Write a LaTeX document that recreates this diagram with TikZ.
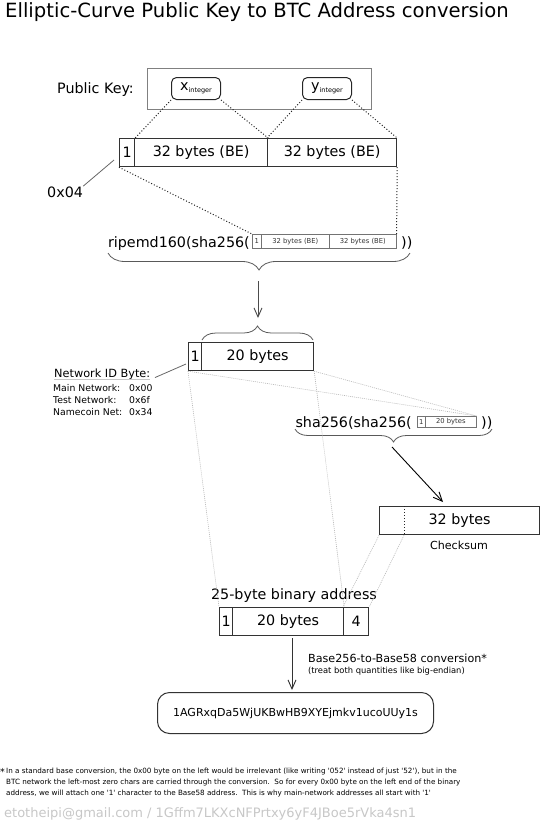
\documentclass[tikz,border=0pt]{standalone}
\usepackage{fontspec}
\setmainfont{DejaVu Sans}
\usetikzlibrary{decorations.pathreplacing}
\usetikzlibrary{arrows.meta}
\newcommand{\midfont}{\fontsize{14.3}{17}\selectfont}
\newcommand{\intsub}[1]{{\fontsize{6.5}{7}\selectfont\raisebox{-2.5pt}{#1}}}
\tikzset{
  cell/.style={draw=black!80, line width=1.2pt, inner sep=0pt, anchor=north west,
    minimum height=28pt, font=\midfont},
  tinycell/.style={draw=black!55, line width=0.6pt, inner sep=0pt, anchor=north west,
    minimum height=14pt, text=black!80, font=\fontsize{6.8}{7}\selectfont},
  keybox/.style={draw=black!85, line width=1pt, rounded corners=5pt, inner sep=0pt,
    anchor=north west, minimum width=49pt, minimum height=22pt, font=\midfont},
  dots/.style={black!85, line width=1pt, dash pattern=on 1pt off 2pt},
  faint/.style={black!28, line width=0.6pt, dash pattern=on 1pt off 1pt},
  leader/.style={black!60, line width=0.8pt},
  curly/.style={black!65, line width=0.8pt, decorate},
  flow/.style={-{Straight Barb[length=9pt,width=8pt]}, line width=0.9pt}
}

\begin{document}
\begin{tikzpicture}[x=1pt, y=-1pt, every node/.append style={inner sep=0pt}]
	\useasboundingbox (0,0) rectangle (540,820);
	\node[anchor=base west, font=\fontsize{19.6}{22}\selectfont] (title) at (5,17) {Elliptic-Curve Public Key to BTC Address conversion};

	% public key
	\node[anchor=base west, font=\midfont] (pklabel) at (57,93) {Public Key:};
	\node[draw=black!50, line width=0.7pt, anchor=north west, minimum width=224pt, minimum height=41pt] (pkbox) at (147,68) {};
	\node[keybox] (xint) at (171,77) {x\intsub{integer}};
	\node[keybox] (yint) at (302,77) {y\intsub{integer}};

	\node[cell, minimum width=15pt] (m1) at (119,138) {1};
	\node[cell, minimum width=133pt] (m2) at (134,138) {32 bytes (BE)};
	\node[cell, minimum width=129pt] (m3) at (267,138) {32 bytes (BE)};
	\draw[dots] (xint.south west) -- (m1.north east);
	\draw[dots] (xint.south east) -- (m2.north east);
	\draw[dots] (yint.south west) -- (m3.north west);
	\draw[dots] (yint.south east) -- (m3.north east);

	\node[anchor=base west, font=\midfont] (zerox) at (47,197) {0x04};
	\coordinate (onept) at (114,160);
	\draw[leader] (zerox.north east) -- (onept);

	% ripemd160 of the whole key
	\node[anchor=base east, font=\midfont] (ripe) at (250,247) {ripemd160(sha256(};
	\node[tinycell, minimum width=9pt] (s1) at (252,234) {1};
	\node[tinycell, minimum width=68pt] (s2) at (261,234) {32 bytes (BE)};
	\node[tinycell, minimum width=67pt] (s3) at (329,234) {32 bytes (BE)};
	\node[anchor=base west, font=\midfont] (ripeclose) at (401,247) {))};
	\draw[dots] (m1.south west) -- (s1.north west);
	\draw[dots] (m3.south east) -- (s3.north east);
	\draw[curly, decoration={brace, amplitude=17pt}] (410,253) -- (108,253);

	\coordinate (hashout) at (258,281);
	\coordinate (hashin) at (258,318);
	\draw[flow, black!70] (hashout) -- (hashin);
	\draw[curly, decoration={brace, amplitude=14pt}] (202,340) -- (313,340);

	\node[cell, minimum width=13pt] (n1) at (188,342) {1};
	\node[cell, minimum width=112pt] (n2) at (201,342) {20 bytes};

	% network byte
	\node[anchor=base west, font=\fontsize{11.3}{13}\selectfont] (netid) at (54,377) {Network ID Byte:};
	\draw[black!22, line width=1pt] (netid.south west) -- (netid.south east);
	\coordinate (idpt) at (186,364);
	\draw[leader, shorten <=5pt] (netid.south east) -- (idpt);
	\foreach \name/\val [count=\i] in {Main Network:/0x00, Test Network:/0x6f, Namecoin Net:/0x34} {
		\node[anchor=base west, font=\fontsize{9.3}{11}\selectfont] (net\i) at (53,379+12*\i) {\name};
		\node[anchor=base west, font=\fontsize{9.3}{11}\selectfont] (val\i) at (129,379+12*\i) {\val};
	}

	% checksum
	\node[anchor=base east, font=\midfont] (sha) at (412,427) {sha256(sha256(};
	\node[tinycell, minimum width=8pt, minimum height=11pt] (t1) at (417,416) {1};
	\node[tinycell, minimum width=51pt, minimum height=11pt] (t2) at (425,416) {20 bytes};
	\node[anchor=base west, font=\midfont] (shaclose) at (481,427) {))};
	\draw[faint] (n1.south west) -- (t2.north east);
	\draw[faint] (n2.south east) -- (t2.north east);
	\draw[curly, decoration={brace, amplitude=13pt}] (492,429) -- (295,429);

	\coordinate (dblout) at (392,447);
	\coordinate (chkin) at (443,502);
	\draw[flow] (dblout) -- (chkin);

	\node[cell, minimum width=160pt] (chk) at (379,506) {32 bytes};
	\path ([xshift=25pt]chk.north west) coordinate (divtop) ([xshift=25pt]chk.south west) coordinate (divbot);
	\draw[dots] (divtop) -- (divbot);
	\node[anchor=base, font=\fontsize{11.1}{13}\selectfont] (chklabel) at (459,549) {Checksum};

	% binary address
	\node[anchor=base, font=\midfont] (addrlabel) at (294,599) {25-byte binary address};
	\node[cell, minimum width=13pt] (a1) at (219,607) {1};
	\node[cell, minimum width=111pt] (a2) at (232,607) {20 bytes};
	\node[cell, minimum width=25pt] (a3) at (343,607) {4};
	\draw[faint] (n1.south west) -- (a1.north west);
	\draw[faint] (n2.south east) -- (a2.north east);
	\draw[faint] (chk.south west) -- (a3.north west);
	\draw[faint] (divbot) -- (a3.north east);

	\coordinate (b58out) at (292,638);
	\coordinate (b58in) at (292,690);
	\draw[flow, black!80] (b58out) -- (b58in);
	\node[anchor=base west, font=\fontsize{11.15}{13}\selectfont] (convlabel) at (308,662) {Base256-to-Base58 conversion*};
	\node[anchor=base west, font=\fontsize{8.35}{10}\selectfont] (convnote) at (308,673) {(treat both quantities like big-endian)};
	\node[draw=black!80, line width=1pt, rounded corners=12pt, anchor=north west, minimum width=276pt, minimum height=41pt, font=\fontsize{11}{13}\selectfont] (b58) at (157,692) {1AGRxqDa5WjUKBwHB9XYEjmkv1ucoUUy1s};

	% footnote
	\node[anchor=base west, font=\fontsize{9.5}{9}\selectfont] (star) at (0,775) {*};
	\node[anchor=north west, align=left, font=\fontsize{7.2}{11}\selectfont] (foot) at (6,768) {In a standard base conversion, the 0x00 byte on the left would be irrelevant (like writing \textquotesingle052\textquotesingle{} instead of just \textquotesingle52\textquotesingle), but in the\\
	BTC network the left-most zero chars are carried through the conversion.\ \ So for every 0x00 byte on the left end of the binary\\
	address, we will attach one \textquotesingle1\textquotesingle{} character to the Base58 address.\ \ This is why main-network addresses all start with \textquotesingle1\textquotesingle};
	\node[anchor=base west, text=black!22, font=\fontsize{13}{14}\selectfont] (mail) at (4,817) {etotheipi@gmail.com / 1Gffm7LKXcNFPrtxy6yF4JBoe5rVka4sn1};
\end{tikzpicture}
\end{document}
